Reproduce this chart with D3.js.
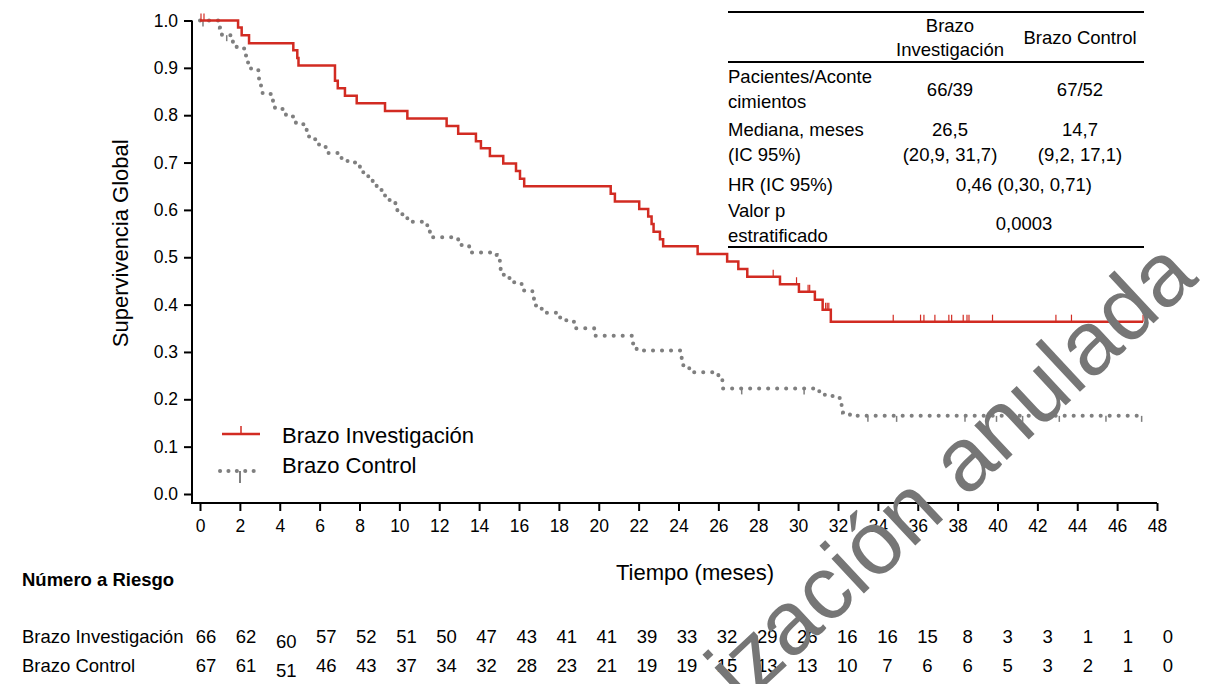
<html>

<head>
    <meta charset="UTF-8">
    <script src="https://d3js.org/d3.v7.min.js"></script>
    <style>
        body { margin: 0; background: #fff; }
        text { font-family: "Liberation Sans", Arial, sans-serif; }
    </style>
</head>

<body>

</body>
<script>
    // ---- data ----
    // Kaplan-Meier steps: [months, survival after the step]
    var investigacionSteps = [
        [0, 1.0], [1.91, 0.985], [2.09, 0.969], [2.46, 0.952], [4.68, 0.937], [4.88, 0.921], [4.94, 0.905],
        [6.77, 0.873], [6.91, 0.857], [7.27, 0.841], [7.86, 0.825], [9.28, 0.809], [10.4, 0.793],
        [12.37, 0.777], [12.95, 0.761], [13.84, 0.745], [14.09, 0.730], [14.54, 0.714], [15.21, 0.698],
        [15.85, 0.682], [16.05, 0.666], [16.26, 0.650], [20.6, 0.634], [20.81, 0.618], [22.03, 0.602],
        [22.48, 0.586], [22.65, 0.570], [22.75, 0.554], [23.07, 0.538], [23.23, 0.523], [24.96, 0.507],
        [26.44, 0.491], [27.0, 0.475], [27.45, 0.459], [29.09, 0.443], [30.04, 0.427], [30.84, 0.410],
        [31.23, 0.389], [31.64, 0.364], [47.3, 0.364]
    ];
    var controlSteps = [
        [0, 1.0], [1.0, 0.985], [1.1, 0.969], [1.65, 0.954], [1.84, 0.941], [2.26, 0.926], [2.41, 0.909],
        [2.56, 0.895], [2.96, 0.877], [3.06, 0.861], [3.14, 0.845], [3.66, 0.829], [3.76, 0.813],
        [4.31, 0.797], [4.81, 0.781], [5.35, 0.765], [5.47, 0.749], [5.97, 0.733], [6.45, 0.720],
        [7.1, 0.709], [7.4, 0.700], [8.02, 0.686], [8.19, 0.672], [8.44, 0.662], [8.66, 0.652],
        [8.86, 0.642], [9.16, 0.636], [9.28, 0.621], [9.8, 0.606], [9.9, 0.591], [10.4, 0.575],
        [11.4, 0.558], [11.53, 0.542], [12.95, 0.526], [13.5, 0.510], [14.7, 0.505], [14.88, 0.494],
        [15.04, 0.479], [15.08, 0.463], [15.35, 0.456], [15.58, 0.447], [16.13, 0.430], [16.67, 0.413],
        [16.75, 0.398], [17.02, 0.391], [17.3, 0.383], [17.94, 0.373], [18.25, 0.367], [18.64, 0.364],
        [18.8, 0.350], [19.77, 0.334], [21.7, 0.318], [21.9, 0.303], [24.16, 0.287], [24.24, 0.272],
        [24.54, 0.264], [24.74, 0.257], [26.0, 0.241], [26.2, 0.223], [31.06, 0.215], [31.34, 0.207],
        [31.76, 0.203], [32.18, 0.186], [32.25, 0.172], [32.6, 0.165], [47.2, 0.165]
    ];
    // censored observations (months)
    var investigacionCensor = [0.05, 0.2, 28.75, 29.92, 30.5, 30.58, 31.38, 31.46, 31.54, 34.77, 36.14, 36.31,
        36.86, 37.56, 37.7, 38.28, 38.47, 38.57, 39.75, 42.93, 43.71, 47.3];
    var controlCensor = [0.15, 1.34, 27.17, 30.3, 33.5, 34.94, 38.37, 39.95, 41.26, 43.1, 45.44, 47.23];

    var timeTicks = [0, 2, 4, 6, 8, 10, 12, 14, 16, 18, 20, 22, 24, 26, 28, 30, 32, 34, 36, 38, 40, 42, 44, 46, 48];
    var survTicks = [0.0, 0.1, 0.2, 0.3, 0.4, 0.5, 0.6, 0.7, 0.8, 0.9, 1.0];

    // numero a riesgo, one value per time tick
    var riesgoInvestigacion = [66, 62, 60, 57, 52, 51, 50, 47, 43, 41, 41, 39, 33, 32, 29, 26, 16, 16, 15, 8, 3, 3, 1, 1, 0];
    var riesgoControl = [67, 61, 51, 46, 43, 37, 34, 32, 28, 23, 21, 19, 19, 15, 13, 13, 10, 7, 6, 6, 5, 3, 2, 1, 0];

    // summary table
    var tablaHeader = [["Brazo", "Investigación"], ["Brazo Control"]];
    var tablaFilas = [
        { label: ["Pacientes/Aconte", "cimientos"], inv: ["66/39"], ctl: ["67/52"] },
        { label: ["Mediana, meses", "(IC 95%)"], inv: ["26,5", "(20,9, 31,7)"], ctl: ["14,7", "(9,2, 17,1)"] },
        { label: ["HR (IC 95%)"], both: "0,46 (0,30, 0,71)" },
        { label: ["Valor p", "estratificado"], both: "0,0003" }
    ];

    var RED = "#d22b22", GREY = "#7f7f7f";

    var W = 1211, H = 684;
    var svg = d3.select("body")
        .append("svg")
        .attr("width", W)
        .attr("height", H);

    var x = d3.scaleLinear().domain([0, 48]).range([200, 1157]);
    var y = d3.scaleLinear().domain([0, 1]).range([494, 20.5]);
    var axisX0 = 192, axisY0 = 503;

    // ---- axes ----
    svg.append("g")
        .attr("transform", "translate(0," + axisY0 + ")")
        .call(d3.axisBottom(x).tickValues(timeTicks).tickSize(8).tickPadding(9).tickSizeOuter(0))
        .call(function (g) {
            g.select(".domain").remove();
            g.selectAll("line").attr("stroke", "#000").attr("stroke-width", 2);
            g.selectAll("text").attr("font-size", 17.5).attr("fill", "#000")
                .attr("font-family", "Liberation Sans, Arial, sans-serif");
        });

    svg.append("g")
        .attr("transform", "translate(" + axisX0 + ",0)")
        .call(d3.axisLeft(y).tickValues(survTicks).tickFormat(d3.format(".1f")).tickSize(8).tickPadding(6).tickSizeOuter(0))
        .call(function (g) {
            g.select(".domain").remove();
            g.selectAll("line").attr("stroke", "#000").attr("stroke-width", 2);
            g.selectAll("text").attr("font-size", 17.5).attr("fill", "#000")
                .attr("font-family", "Liberation Sans, Arial, sans-serif");
        });

    // axis lines (corner below 0.0)
    svg.append("path")
        .attr("d", "M" + axisX0 + "," + y(1) + "V" + axisY0 + "H" + x(48))
        .attr("fill", "none")
        .attr("stroke", "#000")
        .attr("stroke-width", 2);

    svg.append("text")
        .attr("transform", "translate(128," + (y(0.5) - 14) + ") rotate(-90)")
        .attr("text-anchor", "middle")
        .attr("font-size", 22)
        .text("Supervivencia Global");

    svg.append("text")
        .attr("x", 695)
        .attr("y", 580)
        .attr("text-anchor", "middle")
        .attr("font-size", 22)
        .text("Tiempo (meses)");

    // ---- curves ----
    var line = d3.line()
        .x(function (d) { return x(d[0]); })
        .y(function (d) { return y(d[1]); })
        .curve(d3.curveStepAfter);

    function survAt(steps, t) {
        var i = d3.bisectRight(steps.map(function (d) { return d[0]; }), t) - 1;
        return steps[Math.max(i, 0)][1];
    }

    svg.append("path")
        .datum(controlSteps)
        .attr("d", line)
        .attr("fill", "none")
        .attr("stroke", GREY)
        .attr("stroke-width", 4)
        .attr("stroke-linecap", "round")
        .attr("stroke-dasharray", "0.1 8.9");

    svg.selectAll(".cens-ctl")
        .data(controlCensor)
        .enter()
        .append("line")
        .attr("x1", function (d) { return x(d); })
        .attr("x2", function (d) { return x(d); })
        .attr("y1", function (d) { return y(survAt(controlSteps, d)); })
        .attr("y2", function (d) { return y(survAt(controlSteps, d)) + 6; })
        .attr("stroke", GREY)
        .attr("stroke-width", 1.5);

    svg.append("path")
        .datum(investigacionSteps)
        .attr("d", line)
        .attr("fill", "none")
        .attr("stroke", RED)
        .attr("stroke-width", 2.5);

    svg.selectAll(".cens-inv")
        .data(investigacionCensor)
        .enter()
        .append("line")
        .attr("x1", function (d) { return x(d); })
        .attr("x2", function (d) { return x(d); })
        .attr("y1", function (d) { return y(survAt(investigacionSteps, d)); })
        .attr("y2", function (d) { return y(survAt(investigacionSteps, d)) - 7; })
        .attr("stroke", RED)
        .attr("stroke-width", 1.2);

    // ---- legend ----
    var legend = svg.append("g");
    legend.append("line").attr("x1", 222).attr("x2", 260).attr("y1", 434).attr("y2", 434)
        .attr("stroke", RED).attr("stroke-width", 2.5);
    legend.append("line").attr("x1", 241).attr("x2", 241).attr("y1", 434).attr("y2", 426)
        .attr("stroke", RED).attr("stroke-width", 1.5);
    legend.append("line").attr("x1", 220).attr("x2", 262).attr("y1", 471).attr("y2", 471)
        .attr("stroke", GREY).attr("stroke-width", 4).attr("stroke-linecap", "round")
        .attr("stroke-dasharray", "0.1 8.3");
    legend.append("line").attr("x1", 240).attr("x2", 240).attr("y1", 471).attr("y2", 483)
        .attr("stroke", GREY).attr("stroke-width", 2);
    legend.append("text").attr("x", 282).attr("y", 443).attr("font-size", 22).text("Brazo Investigación");
    legend.append("text").attr("x", 282).attr("y", 473).attr("font-size", 22).text("Brazo Control");

    // ---- summary table ----
    var tab = svg.append("g").attr("font-size", 18.5);
    var tL = 728, tR = 1144, cInv = 950, cCtl = 1080, cBoth = 1024;
    [12, 62, 247].forEach(function (ry) {
        tab.append("line").attr("x1", tL).attr("x2", tR).attr("y1", ry).attr("y2", ry)
            .attr("stroke", "#000").attr("stroke-width", 2);
    });
    tab.append("text").attr("x", cInv).attr("y", 32).attr("text-anchor", "middle").text(tablaHeader[0][0]);
    tab.append("text").attr("x", cInv).attr("y", 56).attr("text-anchor", "middle").text(tablaHeader[0][1]);
    tab.append("text").attr("x", cCtl).attr("y", 44).attr("text-anchor", "middle").text(tablaHeader[1][0]);

    var rowTop = [83, 136, 191, 217], lh = 25;
    tablaFilas.forEach(function (r, i) {
        var top = rowTop[i];
        r.label.forEach(function (s, j) {
            tab.append("text").attr("x", tL).attr("y", top + j * lh).text(s);
        });
        var mid = top + (r.label.length - 1) * lh / 2;
        if (r.both) {
            tab.append("text").attr("x", cBoth).attr("y", mid).attr("text-anchor", "middle").text(r.both);
        } else {
            var vy = r.inv.length === 1 ? mid : top;
            r.inv.forEach(function (s, j) {
                tab.append("text").attr("x", cInv).attr("y", vy + j * lh).attr("text-anchor", "middle").text(s);
            });
            r.ctl.forEach(function (s, j) {
                tab.append("text").attr("x", cCtl).attr("y", vy + j * lh).attr("text-anchor", "middle").text(s);
            });
        }
    });

    // ---- numero a riesgo ----
    var riskX = d3.scaleLinear().domain([0, 48]).range([206, 1168]);
    svg.append("text").attr("x", 22).attr("y", 586).attr("font-size", 18.5).attr("font-weight", "bold")
        .text("Número a Riesgo");

    [["Brazo Investigación", riesgoInvestigacion, 643], ["Brazo Control", riesgoControl, 672]].forEach(function (row) {
        svg.append("text").attr("x", 22).attr("y", row[2]).attr("font-size", 18.5).text(row[0]);
        svg.selectAll(null)
            .data(row[1])
            .enter()
            .append("text")
            .attr("x", function (d, i) { return riskX(timeTicks[i]); })
            .attr("y", function (d, i) { return row[2] + (i === 2 ? 5 : 0); })
            .attr("text-anchor", "middle")
            .attr("font-size", 18.5)
            .text(function (d) { return d; });
    });

    // ---- watermark ----
    svg.append("text")
        .attr("transform", "translate(1200,280) rotate(-43)")
        .attr("text-anchor", "end")
        .attr("font-size", 90)
        .attr("fill", "#767676")
        .text("ización anulada");

</script>

</html>
